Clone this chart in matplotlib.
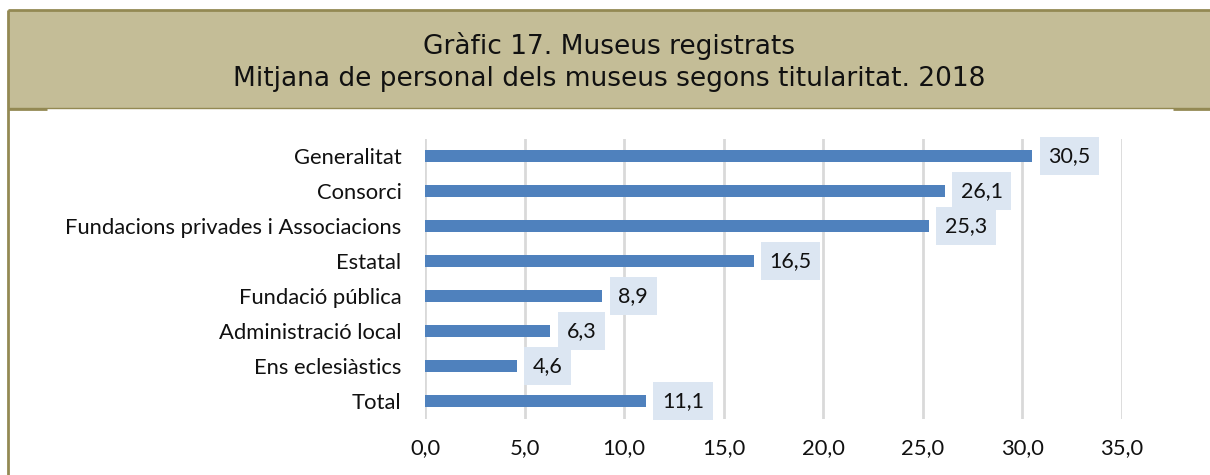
import matplotlib
matplotlib.use("Agg")
import matplotlib.pyplot as plt
from matplotlib.patches import Rectangle
from matplotlib.lines import Line2D

categories = ["Generalitat", "Consorci", "Fundacions privades i Associacions", "Estatal",
              "Fundació pública", "Administració local", "Ens eclesiàstics", "Total"]
values = [30.5, 26.1, 25.3, 16.5, 8.9, 6.3, 4.6, 11.1]
xticks = [0, 5, 10, 15, 20, 25, 30, 35]
title1 = "Gràfic 17. Museus registrats"
title2 = "Mitjana de personal dels museus segons titularitat. 2018"

W, H = 1210, 475
fig = plt.figure(figsize=(W/100, H/100), dpi=100)

def fx(px):
    return px / W

def fy(py):
    return 1 - py / H

EDGE = "#938953"
# title band
band = Rectangle((fx(8), fy(108)), 1.2, (108-10)/H, transform=fig.transFigure,
                 facecolor="#C4BD97", edgecolor="none")
fig.add_artist(band)
lines = [
    ([8, 1210], [10, 10], 2.0),          # top border
    ([8, 8], [10, 475], 2.0),            # left border
    ([8, 1210], [108, 108], 1.0),        # thin bottom border
    ([8, 47], [109, 109], 2.0),          # left thick segment
    ([1173, 1210], [109, 109], 2.0),     # right thick segment
]
for xs, ys, lw in lines:
    fig.add_artist(Line2D([fx(v) for v in xs], [fy(v) for v in ys],
                          transform=fig.transFigure, color=EDGE, linewidth=lw * 0.75 * 1.33,
                          solid_capstyle="butt"))

fig.text(0.5 + 4/W, fy(46), title1, ha="center", va="center", fontsize=19,
         family="DejaVu Sans", color="#111111")
fig.text(0.5 + 4/W, fy(79), title2, ha="center", va="center", fontsize=19,
         family="DejaVu Sans", color="#111111")

ax = fig.add_axes([fx(425), fy(418.5), (1122-425)/W, (418.5-138.5)/H])
y = list(range(len(categories)))
ax.barh(y, values, height=0.36, color="#4F81BD", zorder=3)
ax.set_xlim(0, 35)
ax.set_ylim(len(categories)-0.5, -0.5)
ax.set_yticks(y)
ax.set_yticklabels(categories, family="Lato", fontsize=15.8, color="#111111")
ax.set_xticks(xticks)
ax.set_xticklabels([f"{t:.1f}".replace(".", ",") for t in xticks], family="Lato",
                   fontsize=15.8, color="#111111")
ax.tick_params(length=0)
ax.tick_params(axis="y", pad=17)
ax.tick_params(axis="x", pad=14)
for s in ax.spines.values():
    s.set_visible(False)
ax.grid(axis="x", color="#D9D9D9", linewidth=2, zorder=0)
ax.set_axisbelow(True)

for yi, v in zip(y, values):
    ax.annotate(f"{v:.1f}".replace(".", ","), xy=(v, yi), xytext=(16, 0),
                textcoords="offset pixels",
                ha="left", va="center", family="Lato", fontsize=15.5, color="#111111",
                bbox=dict(boxstyle="square,pad=0.4", facecolor="#DCE6F2", edgecolor="none"),
                zorder=4)

fig.savefig("out.png", dpi=100)
